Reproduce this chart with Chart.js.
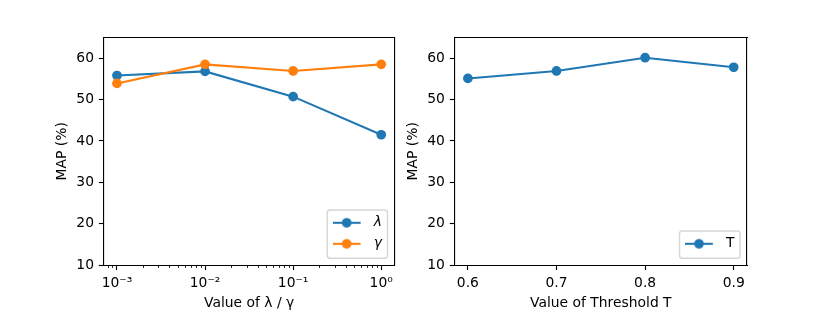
<!DOCTYPE html>
<html><head><meta charset="utf-8">
<script src="https://cdn.jsdelivr.net/npm/chart.js"></script>
<style>
html,body{margin:0;padding:0;background:#fff;}
#wrap{position:relative;width:830px;height:312px;overflow:hidden;background:#fff;}
canvas{position:absolute;top:0;}
#c1{left:0;} #c2{left:400px;}
</style></head><body>
<div id="wrap"><canvas id="c1" width="400" height="312"></canvas><canvas id="c2" width="430" height="312"></canvas></div>
<script>
// ---- data ----
const lambdaGammaValues = [0.001, 0.01, 0.1, 1];
const lambdaSeries = [55.8, 56.8, 50.7, 41.5];
const gammaSeries = [53.9, 58.5, 56.9, 58.5];
const thresholdValues = [0.6, 0.7, 0.8, 0.9];
const thresholdSeries = [55.1, 56.9, 60.1, 57.8];
const leftSeriesNames = ['λ', 'γ'];
const rightSeriesNames = ['T'];
const leftXTickValues = [0.001, 0.01, 0.1, 1];
const leftXTickLabels = ['10⁻³', '10⁻²', '10⁻¹', '10⁰'];
const rightXTickValues = [0.6, 0.7, 0.8, 0.9];
const rightXTickLabels = ['0.6', '0.7', '0.8', '0.9'];
const yTickValues = [10, 20, 30, 40, 50, 60];
const leftXTitle = 'Value of λ / γ';
const rightXTitle = 'Value of Threshold T';
const yTitle = 'MAP (%)';

// ---- style ----
const PT = 100 / 72;
const FS = 10 * PT;
const FONT = {family: "'DejaVu Sans'", size: FS};
const C0 = '#1f77b4', C1 = '#ff7f0e';
Chart.defaults.font.family = "'DejaVu Sans'";
Chart.defaults.color = '#000';

// minor tick positions for the log axis (k * 10^n)
function logMinorTicks(min, max) {
  const out = [];
  for (let e = Math.floor(Math.log10(min)); e <= Math.ceil(Math.log10(max)); e++) {
    for (let k = 2; k <= 9; k++) {
      const v = k * Math.pow(10, e);
      if (v >= min && v <= max) out.push(v);
    }
  }
  return out;
}

function legendIcon(color) {
  const c = document.createElement('canvas');
  c.width = 34; c.height = 12;
  const g = c.getContext('2d');
  g.strokeStyle = color; g.fillStyle = color;
  g.lineWidth = 1.5 * PT;
  g.beginPath(); g.moveTo(0, 6); g.lineTo(2 * FS, 6); g.stroke();
  g.beginPath(); g.arc(FS, 6, 3 * PT, 0, Math.PI * 2); g.fill();
  g.lineWidth = PT; g.stroke();
  return c;
}

const legendPlacer = {
  id: 'legendPlacer',
  afterLayout(chart) {
    const lg = chart.legend;
    if (!lg || !lg.columnSizes || !lg.columnSizes.length) return;
    const ca = chart.chartArea;
    const lp = lg.options.labels.padding;
    const n = lg.legendItems.length;
    const L = FS + lp;
    const frameRight = ca.right - 0.5 * FS;
    const frameBottom = ca.bottom - 0.5 * FS;
    const frameW = lg.columnSizes[0].width + 0.8 * FS;
    const frameLeft = frameRight - frameW;
    const lastC = frameBottom - 14.5;
    const firstC = lastC - (n - 1) * L;
    const frameTop = firstC - 12.7;
    const itemX = frameLeft + 0.4 * FS;
    lg.left = itemX - lp; lg.right = frameRight + 2;
    lg.top = firstC - FS / 2 - lp; lg.bottom = frameBottom + 5;
    lg.width = lg.right - lg.left; lg.height = lg.bottom - lg.top;
    lg._frame = {x: frameLeft, y: frameTop, w: frameW, h: frameBottom - frameTop};
  },
  afterDraw(chart) {
    const f = chart.legend && chart.legend._frame;
    if (!f) return;
    const ctx = chart.ctx;
    ctx.save();
    ctx.strokeStyle = 'rgba(204,204,204,0.8)';
    ctx.lineWidth = PT;
    ctx.beginPath();
    ctx.roundRect(f.x, f.y, f.w, f.h, 0.2 * FS);
    ctx.stroke();
    ctx.restore();
  }
};

function makeChart(canvas, cfg) {
  const tickGrid = {drawOnChartArea: false, drawTicks: true, tickLength: 3.5 * PT, tickWidth: 0.8 * PT, tickColor: '#000'};
  const border = {display: true, color: '#000', width: 0.8 * PT};
  const scales = {
    x: {
      type: cfg.xType, axis: 'x', position: 'bottom', weight: 1, bounds: 'data',
      min: cfg.xMin, max: cfg.xMax,
      afterBuildTicks: s => { s.ticks = cfg.xTicks.map(v => ({value: v})); },
      afterFit: s => { s.height = cfg.xHeight; },
      ticks: {autoSkip: false, maxRotation: 0, minRotation: 0, padding: cfg.xTickPad, color: '#000', font: FONT,
              callback: (v, i) => cfg.xLabels[i]},
      grid: tickGrid, border: border,
      title: {display: true, text: cfg.xTitle, color: '#000', font: FONT, padding: {top: 0, bottom: 0.3}}
    },
    y: {
      type: 'linear', axis: 'y', position: 'left', weight: 1, bounds: 'data', min: 10, max: 65,
      afterBuildTicks: s => { s.ticks = yTickValues.map(v => ({value: v})); },
      afterFit: s => { s.width = cfg.yWidth; },
      ticks: {padding: 3.5 * PT, color: '#000', font: FONT, callback: v => String(v)},
      grid: tickGrid, border: border,
      title: {display: true, text: yTitle, color: '#000', font: FONT, padding: {top: cfg.yWidth - 41.7 - FS * 0.6, bottom: 0}}
    },
    xTop: {
      type: 'linear', axis: 'x', position: 'top', min: 0, max: 1,
      afterFit: s => { s.height = 0; },
      ticks: {display: false}, grid: {drawOnChartArea: false, drawTicks: false}, border: border
    },
    yRight: {
      type: 'linear', axis: 'y', position: 'right', min: 0, max: 1,
      afterFit: s => { s.width = 0; },
      ticks: {display: false}, grid: {drawOnChartArea: false, drawTicks: false}, border: border
    }
  };
  if (cfg.minorTicks) {
    scales.xMinor = {
      type: cfg.xType, axis: 'x', position: 'bottom', weight: 0, bounds: 'data',
      min: cfg.xMin, max: cfg.xMax,
      afterBuildTicks: s => { s.ticks = cfg.minorTicks.map(v => ({value: v})); },
      afterFit: s => { s.height = 0; },
      ticks: {display: false, autoSkip: false},
      grid: {drawOnChartArea: false, drawTicks: true, tickLength: 2 * PT, tickWidth: 0.6 * PT, tickColor: '#000'},
      border: {display: false}
    };
  }
  const icons = cfg.colors.map(legendIcon);
  return new Chart(canvas, {
    type: 'line',
    data: {
      datasets: cfg.series.map((s, i) => ({
        label: cfg.names[i],
        data: cfg.xValues.map((x, j) => ({x: x, y: s[j]})),
        borderColor: cfg.colors[i], backgroundColor: cfg.colors[i],
        pointBackgroundColor: cfg.colors[i], pointBorderColor: cfg.colors[i],
        borderWidth: 1.5 * PT, pointRadius: 3 * PT, pointBorderWidth: PT,
        pointHoverRadius: 3 * PT, tension: 0, fill: false,
        order: cfg.series.length - i, xAxisID: 'x', yAxisID: 'y'
      }))
    },
    options: {
      responsive: false, animation: false, devicePixelRatio: 1,
      layout: {padding: {left: 0, top: 37.44, right: cfg.padRight, bottom: 0}},
      scales: scales,
      plugins: {
        tooltip: {enabled: false},
        legend: {
          position: 'chartArea', align: 'start',
          labels: {
            usePointStyle: true, pointStyleWidth: 34, padding: 7.1, color: '#000',
            font: Object.assign({}, FONT, {style: cfg.legendItalic ? 'italic' : 'normal'}),
            generateLabels: chart => {
              const items = Chart.defaults.plugins.legend.labels.generateLabels(chart);
              items.sort((a, b) => a.datasetIndex - b.datasetIndex);
              items.forEach(it => { it.pointStyle = icons[it.datasetIndex]; });
              return items;
            },
            sort: (a, b) => a.datasetIndex - b.datasetIndex
          }
        }
      }
    },
    plugins: [legendPlacer]
  });
}

const lxMin = Math.pow(10, -3.15), lxMax = Math.pow(10, 0.15);
makeChart(document.getElementById('c1'), {
  xType: 'logarithmic', xMin: lxMin, xMax: lxMax,
  xTicks: leftXTickValues, xLabels: leftXTickLabels, minorTicks: logMinorTicks(lxMin, lxMax),
  xTitle: leftXTitle, xHeight: 312 - 265.2, xTickPad: 3.5 * PT, yWidth: 103.75, padRight: 400 - 396.14,
  xValues: lambdaGammaValues, series: [lambdaSeries, gammaSeries], names: leftSeriesNames,
  colors: [C0, C1], legendItalic: true
});
makeChart(document.getElementById('c2'), {
  xType: 'linear', xMin: 0.585, xMax: 0.915,
  xTicks: rightXTickValues, xLabels: rightXTickLabels, minorTicks: null,
  xTitle: rightXTitle, xHeight: 312 - 265.2, xTickPad: 3.5 * PT, yWidth: 454.61 - 400, padRight: 430 - 347,
  xValues: thresholdValues, series: [thresholdSeries], names: rightSeriesNames,
  colors: [C0], legendItalic: false
});
</script>
</body></html>
